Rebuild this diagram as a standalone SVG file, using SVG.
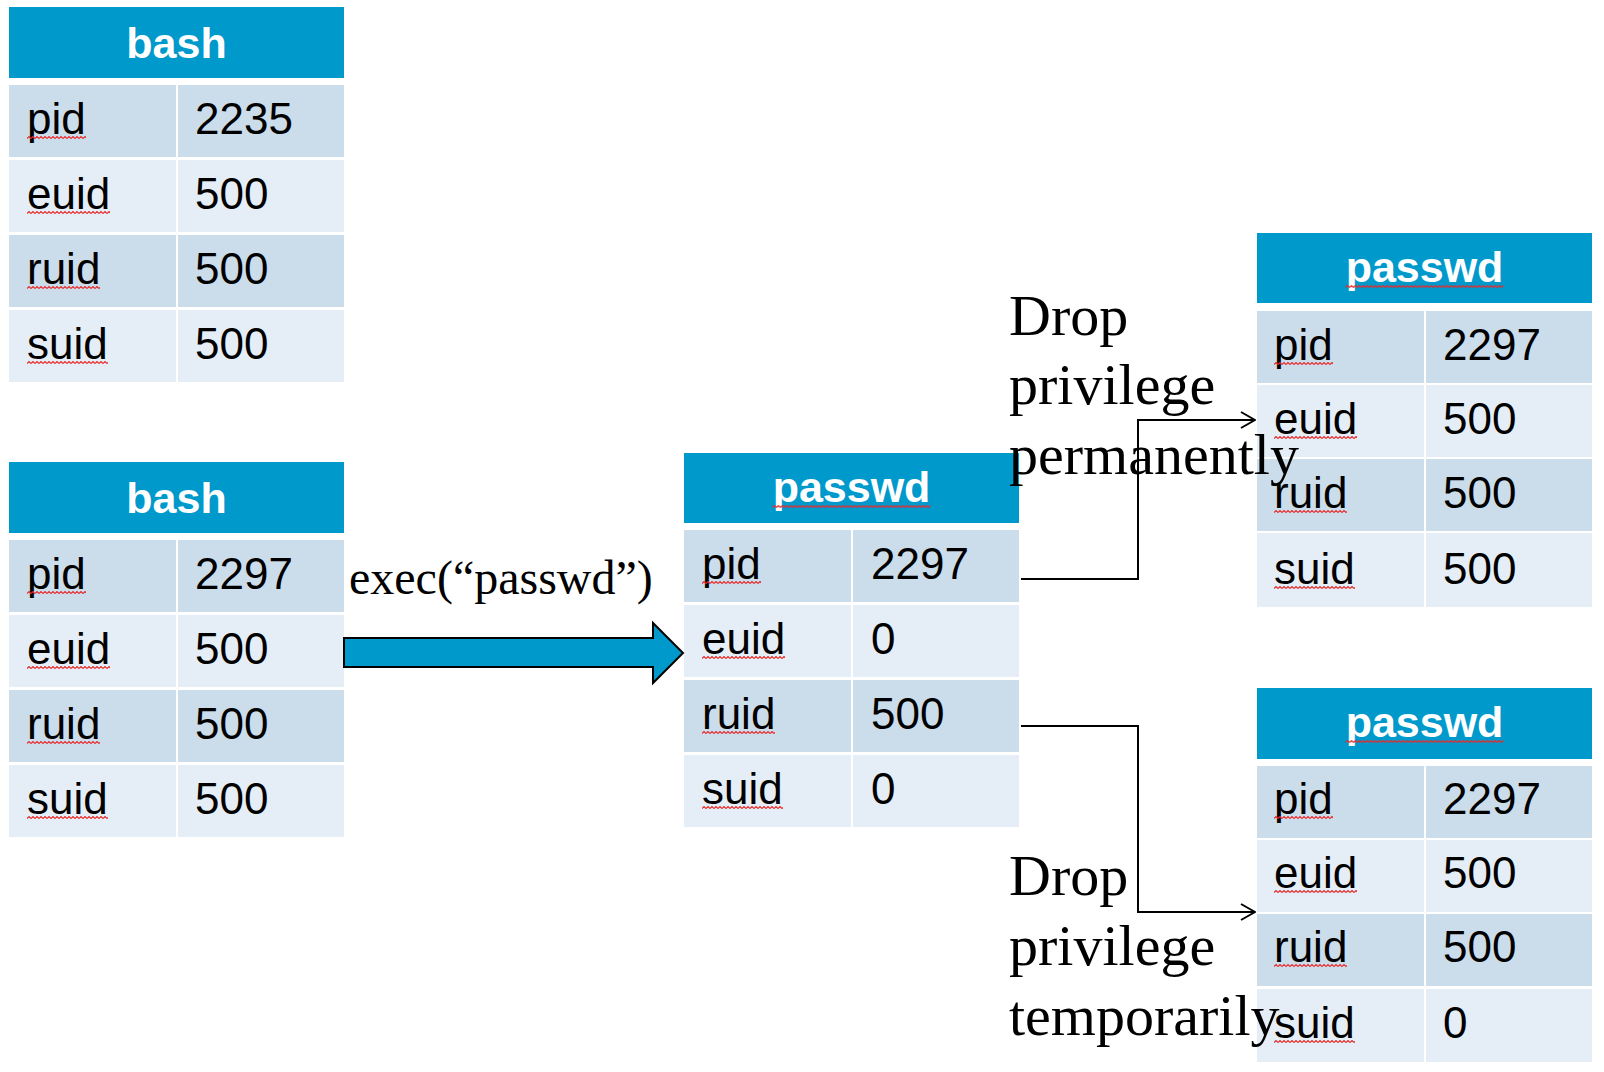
<svg xmlns="http://www.w3.org/2000/svg" width="1604" height="1072" viewBox="0 0 1604 1072">
<style>
.hdr{fill:#0099CC}
.r1{fill:#CBDDEB}
.r2{fill:#E5EEF6}
.ht{font-family:"Liberation Sans",Arial,sans-serif;font-weight:bold;font-size:43px;fill:#FFFFFF;text-anchor:middle}
.ct{font-family:"Liberation Sans",Arial,sans-serif;font-size:44px;fill:#000000}
.st{font-family:"Liberation Serif","Times New Roman",serif;font-size:58px;fill:#000000}
.et{font-family:"Liberation Serif","Times New Roman",serif;font-size:48px;fill:#000000}
.sq{fill:url(#squig)}
.conn{fill:none;stroke:#000000;stroke-width:2}
</style>
<defs>
<pattern id="squig" patternUnits="userSpaceOnUse" x="0" y="0" width="4" height="3">
<path d="M0,2.5 L2,0.5 L4,2.5" fill="none" stroke="#E82828" stroke-width="1.1"/>
</pattern>
<marker id="open" markerUnits="userSpaceOnUse" viewBox="0 0 16 18" markerWidth="16" markerHeight="18" refX="15" refY="9" orient="auto">
<path d="M1,1 L15,9 L1,17" fill="none" stroke="#000000" stroke-width="2"/>
</marker>
</defs>

<g id="bash1" transform="translate(9,7)">
<rect class="hdr" x="0" y="0" width="335" height="71"/>
<rect class="r1" x="0" y="78" width="167" height="72"/><rect class="r1" x="169" y="78" width="166" height="72"/>
<rect class="r2" x="0" y="153" width="167" height="72"/><rect class="r2" x="169" y="153" width="166" height="72"/>
<rect class="r1" x="0" y="228" width="167" height="72"/><rect class="r1" x="169" y="228" width="166" height="72"/>
<rect class="r2" x="0" y="303" width="167" height="72"/><rect class="r2" x="169" y="303" width="166" height="72"/>
<text class="ht" x="167.5" y="51">bash</text>
<text class="ct" x="18" y="127">pid</text><text class="ct" x="186" y="127">2235</text>
<text class="ct" x="18" y="202">euid</text><text class="ct" x="186" y="202">500</text>
<text class="ct" x="18" y="277">ruid</text><text class="ct" x="186" y="277">500</text>
<text class="ct" x="18" y="352">suid</text><text class="ct" x="186" y="352">500</text>
<rect class="sq" width="59" height="3" transform="translate(18,129)"/>
<rect class="sq" width="83" height="3" transform="translate(18,204)"/>
<rect class="sq" width="73" height="3" transform="translate(18,279)"/>
<rect class="sq" width="81" height="3" transform="translate(18,354)"/>
</g>

<g id="bash2" transform="translate(9,462)">
<rect class="hdr" x="0" y="0" width="335" height="71"/>
<rect class="r1" x="0" y="78" width="167" height="72"/><rect class="r1" x="169" y="78" width="166" height="72"/>
<rect class="r2" x="0" y="153" width="167" height="72"/><rect class="r2" x="169" y="153" width="166" height="72"/>
<rect class="r1" x="0" y="228" width="167" height="72"/><rect class="r1" x="169" y="228" width="166" height="72"/>
<rect class="r2" x="0" y="303" width="167" height="72"/><rect class="r2" x="169" y="303" width="166" height="72"/>
<text class="ht" x="167.5" y="51">bash</text>
<text class="ct" x="18" y="127">pid</text><text class="ct" x="186" y="127">2297</text>
<text class="ct" x="18" y="202">euid</text><text class="ct" x="186" y="202">500</text>
<text class="ct" x="18" y="277">ruid</text><text class="ct" x="186" y="277">500</text>
<text class="ct" x="18" y="352">suid</text><text class="ct" x="186" y="352">500</text>
<rect class="sq" width="59" height="3" transform="translate(18,129)"/>
<rect class="sq" width="83" height="3" transform="translate(18,204)"/>
<rect class="sq" width="73" height="3" transform="translate(18,279)"/>
<rect class="sq" width="81" height="3" transform="translate(18,354)"/>
</g>

<g id="passwd_exec" transform="translate(684,453)">
<rect class="hdr" x="0" y="0" width="335" height="70"/>
<rect class="r1" x="0" y="77" width="167" height="72"/><rect class="r1" x="169" y="77" width="166" height="72"/>
<rect class="r2" x="0" y="152" width="167" height="72"/><rect class="r2" x="169" y="152" width="166" height="72"/>
<rect class="r1" x="0" y="227" width="167" height="72"/><rect class="r1" x="169" y="227" width="166" height="72"/>
<rect class="r2" x="0" y="302" width="167" height="72"/><rect class="r2" x="169" y="302" width="166" height="72"/>
<text class="ht" x="167.5" y="49">passwd</text>
<rect class="sq" width="158" height="3" transform="translate(88.5,52)"/>
<text class="ct" x="18" y="126">pid</text><text class="ct" x="187" y="126">2297</text>
<text class="ct" x="18" y="201">euid</text><text class="ct" x="187" y="201">0</text>
<text class="ct" x="18" y="276">ruid</text><text class="ct" x="187" y="276">500</text>
<text class="ct" x="18" y="351">suid</text><text class="ct" x="187" y="351">0</text>
<rect class="sq" width="59" height="3" transform="translate(18,128)"/>
<rect class="sq" width="83" height="3" transform="translate(18,203)"/>
<rect class="sq" width="73" height="3" transform="translate(18,278)"/>
<rect class="sq" width="81" height="3" transform="translate(18,353)"/>
</g>

<g id="passwd_perm" transform="translate(1257,233)">
<rect class="hdr" x="0" y="0" width="335" height="70"/>
<rect class="r1" x="0" y="78" width="167" height="72"/><rect class="r1" x="169" y="78" width="166" height="72"/>
<rect class="r2" x="0" y="152" width="167" height="72"/><rect class="r2" x="169" y="152" width="166" height="72"/>
<rect class="r1" x="0" y="226" width="167" height="72"/><rect class="r1" x="169" y="226" width="166" height="72"/>
<rect class="r2" x="0" y="300" width="167" height="74"/><rect class="r2" x="169" y="300" width="166" height="74"/>
<text class="ht" x="167.5" y="49">passwd</text>
<rect class="sq" width="158" height="3" transform="translate(88.5,52)"/>
<text class="ct" x="17" y="127">pid</text><text class="ct" x="186" y="127">2297</text>
<text class="ct" x="17" y="201">euid</text><text class="ct" x="186" y="201">500</text>
<text class="ct" x="17" y="275">ruid</text><text class="ct" x="186" y="275">500</text>
<text class="ct" x="17" y="351">suid</text><text class="ct" x="186" y="351">500</text>
<rect class="sq" width="59" height="3" transform="translate(17,129)"/>
<rect class="sq" width="83" height="3" transform="translate(17,203)"/>
<rect class="sq" width="73" height="3" transform="translate(17,277)"/>
<rect class="sq" width="81" height="3" transform="translate(17,353)"/>
</g>

<g id="passwd_temp" transform="translate(1257,688)">
<rect class="hdr" x="0" y="0" width="335" height="71"/>
<rect class="r1" x="0" y="78" width="167" height="72"/><rect class="r1" x="169" y="78" width="166" height="72"/>
<rect class="r2" x="0" y="152" width="167" height="72"/><rect class="r2" x="169" y="152" width="166" height="72"/>
<rect class="r1" x="0" y="226" width="167" height="72"/><rect class="r1" x="169" y="226" width="166" height="72"/>
<rect class="r2" x="0" y="301" width="167" height="73"/><rect class="r2" x="169" y="301" width="166" height="73"/>
<text class="ht" x="167.5" y="49">passwd</text>
<rect class="sq" width="158" height="3" transform="translate(88.5,52)"/>
<text class="ct" x="17" y="126">pid</text><text class="ct" x="186" y="126">2297</text>
<text class="ct" x="17" y="200">euid</text><text class="ct" x="186" y="200">500</text>
<text class="ct" x="17" y="274">ruid</text><text class="ct" x="186" y="274">500</text>
<text class="ct" x="17" y="350">suid</text><text class="ct" x="186" y="350">0</text>
<rect class="sq" width="59" height="3" transform="translate(17,128)"/>
<rect class="sq" width="83" height="3" transform="translate(17,202)"/>
<rect class="sq" width="73" height="3" transform="translate(17,276)"/>
<rect class="sq" width="81" height="3" transform="translate(17,352)"/>
</g>

<g id="connectors">
<polygon points="344,638 653,638 653,623 683,653 653,683 653,667 344,667" fill="#0099CC" stroke="#000000" stroke-width="2" stroke-linejoin="miter"/>
<polyline class="conn" points="1021,579 1138,579 1138,420 1255,420" marker-end="url(#open)"/>
<polyline class="conn" points="1021,726 1138,726 1138,912 1255,912" marker-end="url(#open)"/>
</g>

<g id="labels">
<text class="et" x="349" y="594">exec(“passwd”)</text>
<text class="st" x="1009" y="335">Drop</text>
<text class="st" x="1009" y="404">privilege</text>
<text class="st" x="1009" y="474">permanently</text>
<text class="st" x="1009" y="895">Drop</text>
<text class="st" x="1009" y="965">privilege</text>
<text class="st" x="1009" y="1035">temporarily</text>
</g>
</svg>
